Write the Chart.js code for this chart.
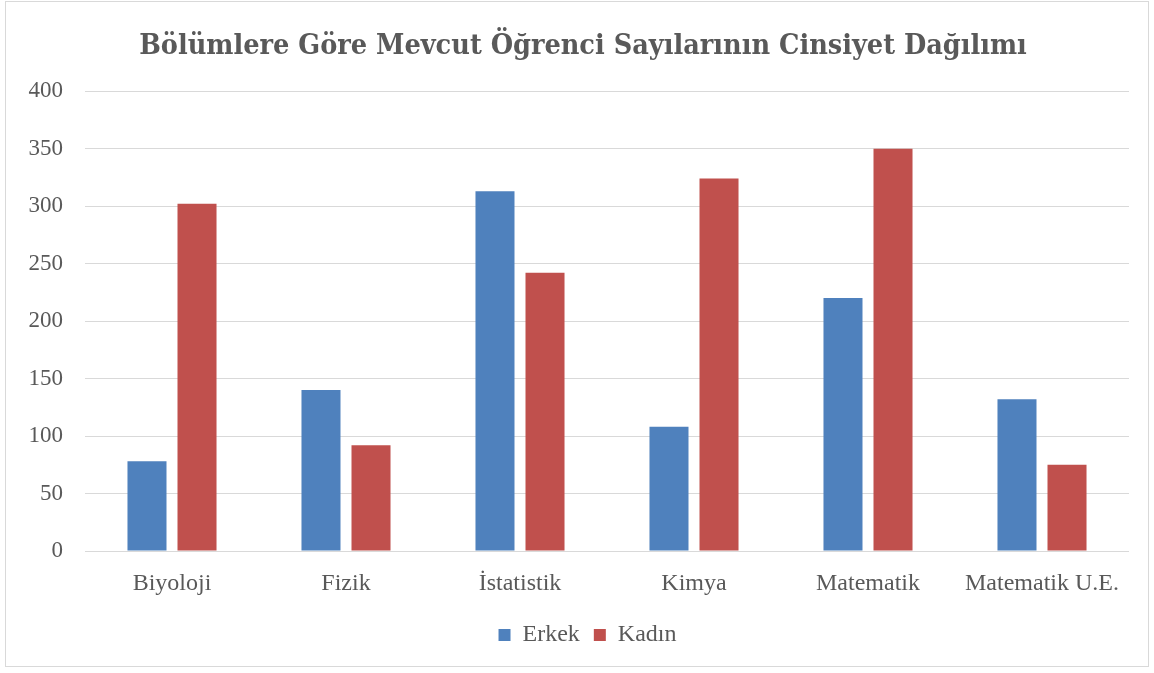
<!DOCTYPE html>
<html>
<head>
<meta charset="utf-8">
<script src="https://cdn.jsdelivr.net/npm/chart.js@4"></script>
<style>
  html, body { margin: 0; padding: 0; background: #fff; }
  #wrap { position: absolute; left: 5px; top: 1px; width: 1142px; height: 664px; border: 1px solid #d9d9d9; }
  canvas { display: block; }
</style>
</head>
<body>
<div id="wrap"><canvas id="c" width="1142" height="664"></canvas></div>
<script>
const categories = ["Biyoloji", "Fizik", "İstatistik", "Kimya", "Matematik", "Matematik U.E."];
const erkek = [78, 140, 313, 108, 220, 132];
const kadin = [302, 92, 242, 324, 350, 75];
const yTicks = [0, 50, 100, 150, 200, 250, 300, 350, 400];
const titleText = "Bölümlere Göre Mevcut Öğrenci Sayılarının Cinsiyet Dağılımı";

const serif = "'Liberation Serif', 'DejaVu Serif', serif";

// nudge title and legend horizontally to match the reference centering
const nudge = {
  id: 'nudge',
  afterLayout(chart) {
    if (chart.titleBlock) chart.titleBlock.left += 10;
    if (chart.legend) chart.legend.left += 19;
  }
};

new Chart(document.getElementById('c'), {
  type: 'bar',
  data: {
    labels: categories,
    datasets: [
      { label: 'Erkek', data: erkek, backgroundColor: '#4f81bd', barPercentage: 0.78, categoryPercentage: 0.575 },
      { label: 'Kadın', data: kadin, backgroundColor: '#c0504d', barPercentage: 0.78, categoryPercentage: 0.575 }
    ]
  },
  plugins: [nudge],
  options: {
    responsive: false,
    animation: false,
    layout: { padding: { left: 21, right: 19, top: 27, bottom: 9 } },
    plugins: {
      title: {
        display: true,
        text: titleText,
        color: '#595959',
        font: { family: "'DejaVu Serif Condensed', 'DejaVu Serif', serif", size: 28.5, weight: 'bold' },
        padding: { top: 0, bottom: 28 }
      },
      legend: {
        position: 'bottom',
        labels: {
          color: '#595959',
          font: { family: serif, size: 24 },
          boxWidth: 12, boxHeight: 12, padding: 14
        }
      },
      tooltip: { enabled: false }
    },
    scales: {
      x: {
        grid: { display: false },
        border: { display: false },
        ticks: { color: '#595959', font: { family: serif, size: 24 }, padding: 10.6 }
      },
      y: {
        min: yTicks[0], max: yTicks[yTicks.length - 1],
        afterBuildTicks: (axis) => { axis.ticks = yTicks.map(v => ({ value: v })); },
        afterFit: (axis) => { axis.width = 58; },
        ticks: { color: '#595959', font: { family: serif, size: 23 }, padding: 22 },
        grid: { color: '#d9d9d9', lineWidth: 1, drawTicks: false },
        border: { display: false }
      }
    }
  }
});
</script>
</body>
</html>
